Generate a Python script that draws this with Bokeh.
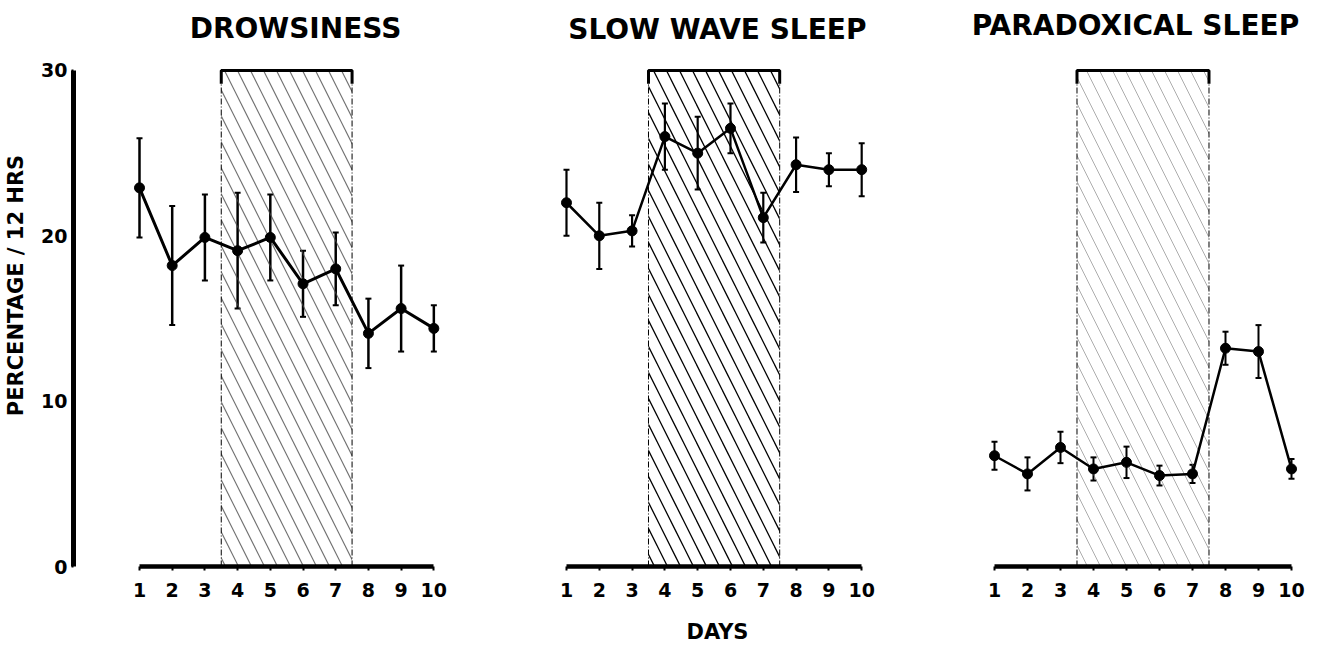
from bokeh.plotting import figure
from bokeh.layouts import row
from bokeh.models import Range1d, FixedTicker, Whisker, TeeHead, ColumnDataSource, Label
from bokeh.embed import file_html
from bokeh.resources import INLINE

# ---------------- data ----------------
days = [1, 2, 3, 4, 5, 6, 7, 8, 9, 10]
drow_mean = [22.9, 18.2, 19.9, 19.1, 19.9, 17.1, 18.0, 14.1, 15.6, 14.4]
drow_err = [3.0, 3.6, 2.6, 3.5, 2.6, 2.0, 2.2, 2.1, 2.6, 1.4]
sws_mean = [22.0, 20.0, 20.3, 26.0, 25.0, 26.5, 21.1, 24.3, 24.0, 24.0]
sws_err = [2.0, 2.0, 0.95, 2.0, 2.2, 1.5, 1.5, 1.65, 1.0, 1.6]
ps_mean = [6.7, 5.6, 7.2, 5.9, 6.3, 5.5, 5.6, 13.2, 13.0, 5.9]
ps_err = [0.85, 1.0, 0.95, 0.7, 0.95, 0.6, 0.55, 1.0, 1.6, 0.6]
titles = ["DROWSINESS", "SLOW WAVE SLEEP", "PARADOXICAL SLEEP"]
treat_start = [3.5]
treat_end = [7.5]
y_ticks = [0, 10, 20, 30]
y_max = 30

FONT = "DejaVu Sans"
TOP = 4
BOTTOM = 86
FRAME_H = 556 + 6
H = TOP + FRAME_H + BOTTOM
Y_END = 33.99


def make_panel(mean, err, title, width, bl, br, x_start, x_end, title_x, title_y,
               hatch_color, hatch_weight, hatch_alpha, line_w, err_w, show_y,
               xlabel=None):
    p = figure(width=width, height=H, output_backend="svg", toolbar_location=None,
               x_range=Range1d(x_start, x_end), y_range=Range1d(0, Y_END),
               min_border_left=bl, min_border_right=br, min_border_top=TOP,
               min_border_bottom=BOTTOM)
    p.outline_line_color = None
    p.xgrid.visible = False
    p.ygrid.visible = False
    p.background_fill_color = "white"
    p.border_fill_color = "white"

    # treatment period shading
    p.quad(left=treat_start, right=treat_end, bottom=[0], top=[y_max],
           fill_alpha=0, line_color=None, hatch_pattern="\\",
           hatch_scale=26, hatch_color=hatch_color, hatch_weight=hatch_weight,
           hatch_alpha=hatch_alpha)
    p.segment(x0=treat_start + treat_end, y0=[0, 0], x1=treat_start + treat_end,
              y1=[y_max, y_max], line_color="black", line_width=1,
              line_dash="6 2 1 2")
    # bracket on top
    p.line(x=[treat_start[0], treat_start[0], treat_end[0], treat_end[0]],
           y=[y_max - 0.8, y_max, y_max, y_max - 0.8],
           line_color="black", line_width=3)

    lower = [m - e for m, e in zip(mean, err)]
    upper = [m + e for m, e in zip(mean, err)]
    src = ColumnDataSource(dict(x=days, y=mean, lower=lower, upper=upper))
    w = Whisker(base="x", upper="upper", lower="lower", source=src,
                line_color="black", line_width=err_w,
                upper_head=TeeHead(size=6, line_width=2, line_color="black"),
                lower_head=TeeHead(size=6, line_width=2, line_color="black"))
    p.add_layout(w)
    p.line("x", "y", source=src, line_color="black", line_width=line_w)
    p.scatter("x", "y", source=src, size=10, color="black")

    # x axis
    xa = p.xaxis[0]
    xa.ticker = FixedTicker(ticks=days)
    xa.bounds = (1, 10)
    xa.axis_line_width = 4.5
    xa.axis_line_color = "black"
    xa.major_tick_out = 4
    xa.major_tick_in = 0
    xa.major_tick_line_width = 2
    xa.minor_tick_line_color = None
    xa.major_label_text_font = FONT
    xa.major_label_text_font_style = "bold"
    xa.major_label_text_font_size = "19px"
    xa.major_label_text_color = "black"
    xa.major_label_standoff = 12
    if xlabel:
        xa.axis_label = xlabel
        xa.axis_label_text_font = FONT
        xa.axis_label_text_font_style = "bold"
        xa.axis_label_text_font_size = "21px"
        xa.axis_label_text_color = "black"
        xa.axis_label_standoff = 20

    ya = p.yaxis[0]
    if show_y:
        ya.ticker = FixedTicker(ticks=y_ticks)
        ya.bounds = (0, y_max)
        ya.axis_line_width = 5
        ya.axis_line_color = "black"
        ya.major_tick_out = 2
        ya.major_tick_in = 0
        ya.major_tick_line_width = 2
        ya.minor_tick_line_color = None
        ya.major_label_text_font = FONT
        ya.major_label_text_font_style = "bold"
        ya.major_label_text_font_size = "19px"
        ya.major_label_text_color = "black"
        ya.major_label_standoff = 4
        ya.axis_label = "PERCENTAGE / 12 HRS"
        ya.axis_label_text_font = FONT
        ya.axis_label_text_font_style = "bold"
        ya.axis_label_text_font_size = "21px"
        ya.axis_label_text_color = "black"
        ya.axis_label_standoff = 10
    else:
        ya.visible = False

    p.add_layout(Label(x=title_x, y=title_y, text=title, text_align="center",
                       text_baseline="middle", text_font=FONT,
                       text_font_style="bold", text_font_size="28px",
                       text_color="black"))
    return p


p1 = make_panel(drow_mean, drow_err, titles[0], 520, 73, 0, -1.018, 12.65, 5.77, 32.54,
                "#444444", 1.2, 0.75, 3, 2.5, True)
p2 = make_panel(sws_mean, sws_err, titles[1], 394, 0, 0, -0.402, 11.61, 5.60, 32.48,
                "black", 1.3, 1.0, 2.5, 2.2, False, xlabel="DAYS")
p3 = make_panel(ps_mean, ps_err, titles[2], 411, 0, 8, -1.424, 10.788, 5.27, 32.72,
                "#777777", 1.0, 0.6, 2.5, 2, False)

layout = row(p1, p2, p3, spacing=0)
open("out.html", "w").write(file_html(layout, INLINE))
